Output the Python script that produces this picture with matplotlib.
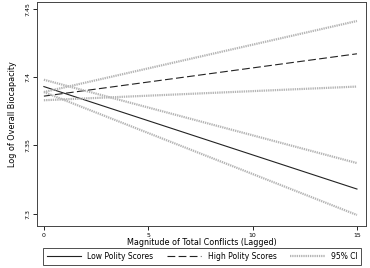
import matplotlib.pyplot as plt

# magnitude of conflicts (lagged), endpoints of the linear predictions
conflict = [0, 15]

low_polity = [7.393, 7.318]
low_ci_hi = [7.398, 7.337]
low_ci_lo = [7.389, 7.299]

high_polity = [7.386, 7.417]
high_ci_hi = [7.389, 7.441]
high_ci_lo = [7.383, 7.393]

xticks = [0, 5, 10, 15]
yticks = [7.3, 7.35, 7.4, 7.45]
ytick_labels = ['7.3', '7.35', '7.4', '7.45']

ci_col = '#b4b4b4'

fig = plt.figure(figsize=(3.7, 2.68), dpi=100)
ax = fig.add_axes([0.1, 0.157, 0.889, 0.836])

ax.plot(conflict, low_polity, color='#222222', lw=0.8, label='Low Polity Scores')
ax.plot(conflict, high_polity, color='#222222', lw=0.8, dashes=(7, 3), label='High Polity Scores')
for i, ys in enumerate([low_ci_hi, low_ci_lo, high_ci_hi, high_ci_lo]):
    ax.plot(conflict, ys, color=ci_col, lw=1.6, ls=(0, (0.6, 0.4)),
            label='95% CI' if i == 0 else None)

ax.set_xlim(-0.33, 15.43)
ax.set_ylim(7.291, 7.455)
ax.set_xticks(xticks)
ax.set_xticklabels([str(t) for t in xticks], fontsize=4.5)
ax.set_yticks(yticks)
ax.set_yticklabels(ytick_labels, fontsize=4.5, rotation=90, va='center')
ax.tick_params(length=3, width=0.6, pad=2)
for s in ax.spines.values():
    s.set_linewidth(0.7)
    s.set_color('#444444')
ax.set_xlabel('Magnitude of Total Conflicts (Lagged)', fontsize=5.8, labelpad=0)
ax.set_ylabel('Log of Overall Biocapacity', fontsize=5.8, labelpad=6)

leg = fig.legend(loc='center', bbox_to_anchor=(0.546, 0.043),
                 ncol=3, fontsize=5.5, fancybox=False,
                 edgecolor='#222222', handlelength=4.5, borderaxespad=0,
                 borderpad=0.5, handletextpad=0.8, columnspacing=1.8)
leg.get_frame().set_linewidth(0.7)

fig.savefig('out.png', dpi=100)
